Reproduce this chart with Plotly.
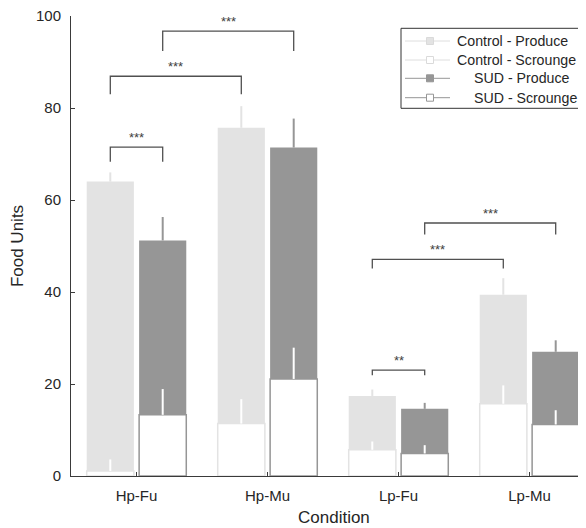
import plotly.graph_objects as go

# ---- data ----
conditions = ["Hp-Fu", "Hp-Mu", "Lp-Fu", "Lp-Mu"]
cond_pos = [1, 2, 3, 4]

control_produce = [64.0, 75.7, 17.4, 39.4]
control_produce_err = [2.0, 4.7, 1.4, 3.6]
sud_produce = [51.2, 71.4, 14.6, 27.0]
sud_produce_err = [5.1, 6.3, 1.3, 2.5]

control_scrounge = [1.1, 11.4, 5.7, 15.7]
control_scrounge_err = [2.5, 5.3, 1.8, 4.0]
sud_scrounge = [13.3, 21.1, 4.9, 11.2]
sud_scrounge_err = [5.6, 6.8, 1.8, 3.1]

# significance brackets: left x, right x, bar height, leg bottom, label
bracket_left = [0.8, 0.8, 1.2, 2.8, 2.8, 3.2]
bracket_right = [1.2, 1.8, 2.2, 3.2, 3.8, 4.2]
bracket_top = [71.5, 86.9, 96.7, 23.0, 47.1, 55.0]
bracket_leg = [68.3, 83.0, 92.4, 21.9, 45.1, 52.5]
bracket_label = ["***", "***", "***", "**", "***", "***"]

legend_names = ["Control - Produce", "Control - Scrounge", "SUD - Produce", "SUD - Scrounge"]

# ---- styling ----
LIGHT = "#e3e3e3"
DARK = "#969696"
TXT = "#262626"
AXC = "#3a3a3a"
FONT = "Liberation Sans, Arial, sans-serif"
OFF = 0.2
BW = 0.36

# figure geometry (page has an 8px body margin)
W, H = 578, 520
ML, MR, MT, MB = 63, 0, 8, 52
PW, PH = W - ML - MR, H - MT - MB


def px(fx):
    return (fx - ML) / PW


def py(fy):
    return 1 - (fy - MT) / PH


ctrl_x = [p - OFF for p in cond_pos]
sud_x = [p + OFF for p in cond_pos]
zeros = [0, 0, 0, 0]

fig = go.Figure()


def bar(x, y, err, fill, line, lw, ecolor):
    return go.Bar(
        x=x, y=y, width=BW, marker=dict(color=fill, line=dict(color=line, width=lw)),
        error_y=dict(type="data", symmetric=False, array=err, arrayminus=zeros,
                     color=ecolor, thickness=2, width=0),
        showlegend=False, hoverinfo="y",
    )


fig.add_trace(bar(ctrl_x, control_produce, control_produce_err, LIGHT, LIGHT, 0, LIGHT))
fig.add_trace(bar(sud_x, sud_produce, sud_produce_err, DARK, DARK, 0, DARK))
fig.add_trace(bar(ctrl_x, control_scrounge, control_scrounge_err, "white", LIGHT, 1.5, "white"))
fig.add_trace(bar(sud_x, sud_scrounge, sud_scrounge_err, "white", DARK, 1.5, "white"))

# brackets
for xl, xr, yt, yl, lab in zip(bracket_left, bracket_right, bracket_top, bracket_leg, bracket_label):
    fig.add_trace(go.Scatter(
        x=[xl, xl, xr, xr], y=[yl, yt, yt, yl], mode="lines",
        line=dict(color="#505050", width=1.3), showlegend=False, hoverinfo="skip",
    ))
    fig.add_annotation(x=(xl + xr) / 2, y=yt, text=lab, showarrow=False,
                       xanchor="center", yanchor="bottom", yshift=0,
                       font=dict(family=FONT, size=13, color="#404040"))

# legend box (MATLAB-style, drawn manually)
legend_fill = [LIGHT, "white", DARK, "white"]
legend_edge = ["#dadada", "#dadada", DARK, DARK]
legend_line = ["#dedede", "#dedede", DARK, DARK]
legend_text_x = [447, 447, 463.5, 463.5]
row_y = [33, 52, 70.3, 89.7]

fig.add_shape(type="rect", xref="paper", yref="paper", layer="above",
              x0=px(393), x1=px(576.3), y0=py(100.3), y1=py(20.3),
              line=dict(color="#333333", width=1), fillcolor="white")
for name, fill, edge, lcol, tx, ry in zip(legend_names, legend_fill, legend_edge,
                                          legend_line, legend_text_x, row_y):
    fig.add_shape(type="line", xref="paper", yref="paper", layer="above",
                  x0=px(397), x1=px(442), y0=py(ry), y1=py(ry),
                  line=dict(color=lcol, width=1))
    fig.add_shape(type="rect", xref="paper", yref="paper", layer="above",
                  x0=px(418.5), x1=px(425.5), y0=py(ry + 3.5), y1=py(ry - 3.5),
                  line=dict(color=edge, width=1), fillcolor=fill)
    fig.add_annotation(xref="paper", yref="paper", x=px(tx), y=py(ry), text=name,
                       showarrow=False, xanchor="left", yanchor="middle",
                       font=dict(family=FONT, size=14.2, color=TXT))

fig.add_annotation(xref="paper", yref="paper", x=px(326), y=py(509),
                   text="Condition", showarrow=False, xanchor="center", yanchor="middle",
                   font=dict(family=FONT, size=17, color=TXT))

fig.update_layout(
    width=W, height=H,
    margin=dict(l=ML, r=MR, t=MT, b=MB, pad=0),
    barmode="overlay",
    showlegend=False,
    paper_bgcolor="white", plot_bgcolor="white",
    font=dict(family=FONT, size=15, color=TXT),
    xaxis=dict(range=[0.5, 0.5 + PW / 131], tickvals=cond_pos, ticktext=conditions,
               showline=True, linecolor=AXC, linewidth=1, ticks="inside", ticklen=4,
               tickcolor=AXC, showgrid=False, zeroline=False, ticklabelstandoff=6,
               ticklabeloverflow="allow", tickfont=dict(size=15)),
    yaxis=dict(range=[0, 100], tickvals=[0, 20, 40, 60, 80, 100],
               showline=True, linecolor=AXC, linewidth=1, ticks="inside", ticklen=4,
               tickcolor=AXC, showgrid=False, zeroline=False, ticklabelstandoff=6,
               ticklabeloverflow="allow", tickfont=dict(size=15),
               title=dict(text="Food Units", font=dict(size=17, family=FONT, color=TXT), standoff=11)),
)

fig.write_html("out.html")
